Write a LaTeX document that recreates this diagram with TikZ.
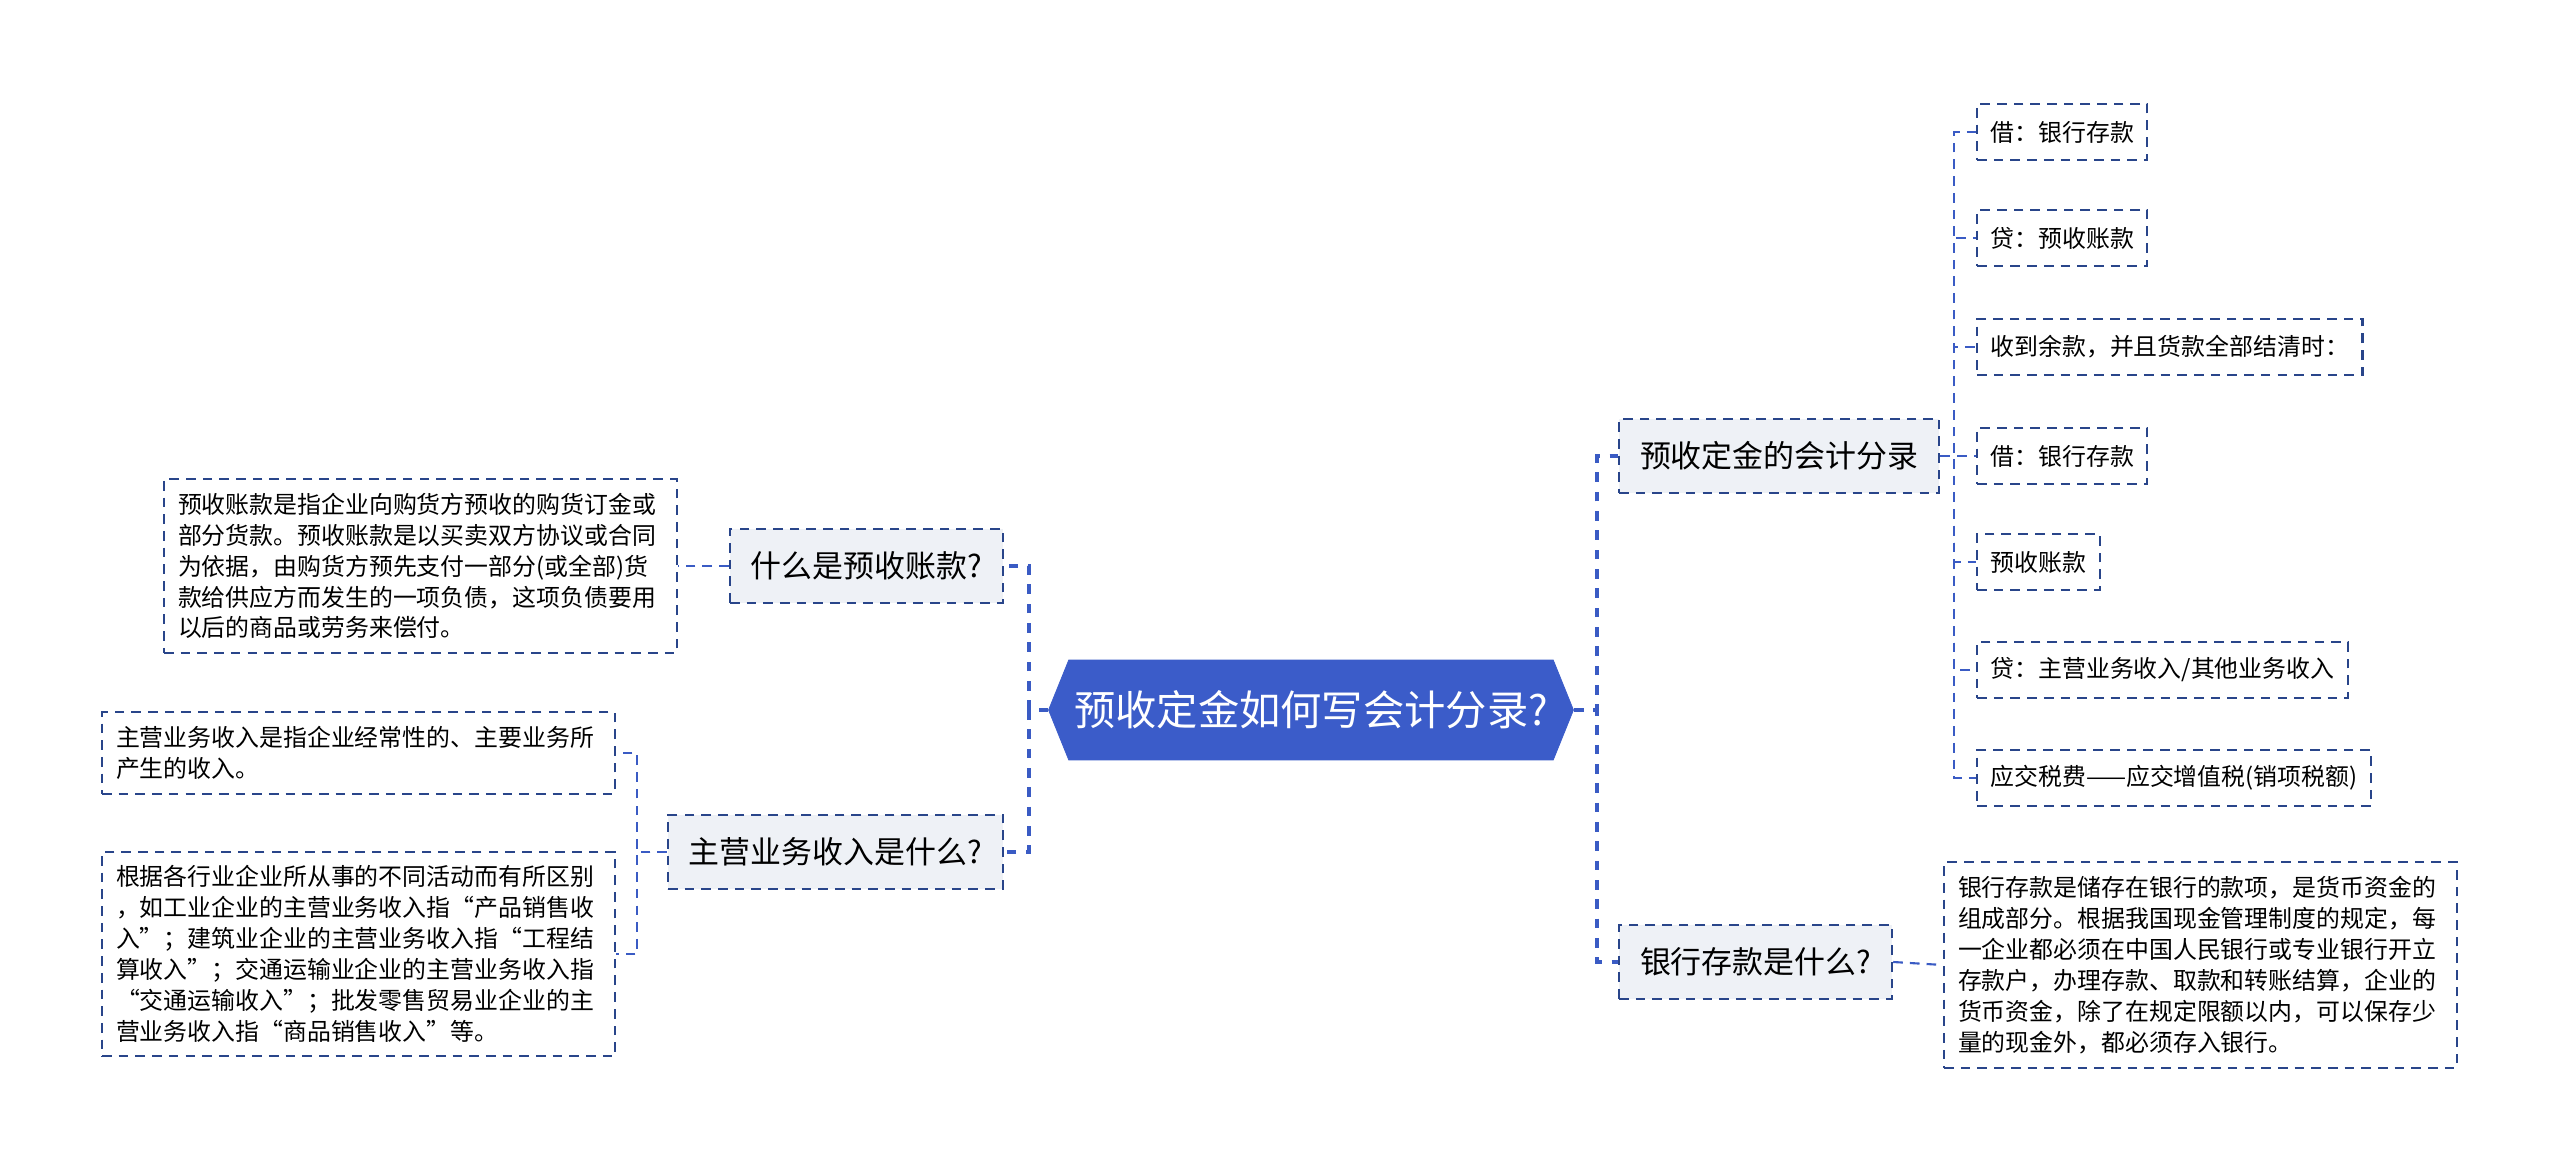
\documentclass[tikz,border=0pt]{standalone}
\usepackage{fontspec}
\setmainfont{Noto Sans CJK SC}
\usepackage{tikz}
\usepackage{xcolor}
\usetikzlibrary{
    shapes.symbols,
    calc,
    positioning
}
\definecolor{rootblue}{HTML}{3B5CC9}
\definecolor{linkblue}{HTML}{3A5BC4}
\definecolor{boxnavy}{HTML}{29458A}
\definecolor{midfill}{HTML}{EEF1F6}

\begin{document}
\begin{tikzpicture}[
        x=0.02cm, y=-0.02cm,
        rootnode/.style={shape=signal, signal to=west and east, signal pointer angle=136,
            fill=rootblue, draw=rootblue, text=white, minimum width=10.5cm, minimum height=2cm,
            inner xsep=0pt, font=\fontsize{23.5}{28}\selectfont},
        midnode/.style={draw=boxnavy, dashed, dash pattern=on 5.5pt off 4pt, line width=1.2pt,
            fill=midfill, minimum height=1.48cm, inner xsep=0.42cm, font=\fontsize{17.6}{21}\selectfont},
        leafnode/.style={draw=boxnavy, dashed, dash pattern=on 5.5pt off 4pt, line width=1.2pt,
            fill=white, minimum height=1.12cm, inner xsep=0.27cm, font=\fontsize{13.6}{16}\selectfont},
        descnode/.style={draw=boxnavy, dashed, dash pattern=on 5.5pt off 4pt, line width=1.2pt,
            fill=white, text width=9.7cm, align=left, inner xsep=0.28cm, inner ysep=0.28cm,
            font=\fontsize{13.6}{17.6}\selectfont},
        rootlink/.style={draw=linkblue, line width=2.2pt, dash pattern=on 5.5pt off 5.5pt},
        sublink/.style={draw=linkblue, line width=1.2pt, dash pattern=on 5.5pt off 4pt}
    ]
                        \useasboundingbox (0, 0) rectangle (2560, 1175);
                        \fill[white] (0, 0) rectangle (2560, 1175);

                        \node[rootnode] (root) at (1311, 710) {预收定金如何写会计分录?};

                        \node[midnode, anchor=east] (whatadv) at (1004, 566) {什么是预收账款?};
                        \node[midnode, anchor=east] (whatrev) at (1004, 852) {主营业务收入是什么?};
                        \node[midnode, anchor=west] (entries) at (1618, 456) {预收定金的会计分录};
                        \node[midnode, anchor=west] (whatbank) at (1618, 962) {银行存款是什么?};

                        \node[descnode, anchor=east] (advdesc) at (678, 566) {预收账款是指企业向购货方预收的购货订金或\\部分货款。预收账款是以买卖双方协议或合同\\为依据，由购货方预先支付一部分(或全部)货\\款给供应方而发生的一项负债，这项负债要用\\以后的商品或劳务来偿付。};
                        \node[descnode, anchor=east] (revdescA) at (616, 753) {主营业务收入是指企业经常性的、主要业务所\\产生的收入。};
                        \node[descnode, anchor=east] (revdescB) at (616, 954) {根据各行业企业所从事的不同活动而有所区别\\，如工业企业的主营业务收入指“产品销售收\\入”；建筑业企业的主营业务收入指“工程结\\算收入”；交通运输业企业的主营业务收入指\\“交通运输收入”；批发零售贸易业企业的主\\营业务收入指“商品销售收入”等。};
                        \node[descnode, anchor=west] (bankdesc) at (1943, 965) {银行存款是储存在银行的款项，是货币资金的\\组成部分。根据我国现金管理制度的规定，每\\一企业都必须在中国人民银行或专业银行开立\\存款户，办理存款、取款和转账结算，企业的\\货币资金，除了在规定限额以内，可以保存少\\量的现金外，都必须存入银行。};

                        \node[leafnode, anchor=west] (debitA) at (1976, 132) {借：银行存款};
                        \node[leafnode, anchor=west] (creditA) at (1976, 238) {贷：预收账款};
                        \node[leafnode, anchor=west] (settle) at (1976, 347) {收到余款，并且货款全部结清时：};
                        \node[leafnode, anchor=west] (debitB) at (1976, 456) {借：银行存款};
                        \node[leafnode, anchor=west] (advacct) at (1976, 562) {预收账款};
                        \node[leafnode, anchor=west] (creditB) at (1976, 670) {贷：主营业务收入/其他业务收入};
                        \node[leafnode, anchor=west] (taxes) at (1976, 778) {应交税费——应交增值税(销项税额)};

                        \coordinate (rootL) at (1029, 710);
                        \coordinate (rootR) at (1597, 710);
                        \coordinate (revJ) at (637, 852);
                        \coordinate (entJ) at (1954, 456);

                        \draw[rootlink] (root.west) -- (rootL) |- (whatadv.east);
                        \draw[rootlink] (root.west) -- (rootL) |- (whatrev.east);
                        \draw[rootlink] (root.east) -- (rootR) |- (entries.west);
                        \draw[rootlink] (root.east) -- (rootR) |- (whatbank.west);

                        \draw[sublink] (whatadv.west) -- (advdesc.east);
                        \draw[sublink] (whatbank.east) -- (bankdesc.west);
                        \draw[sublink] (whatrev.west) -- (revJ) |- (revdescA.east);
                        \draw[sublink] (whatrev.west) -- (revJ) |- (revdescB.east);

                        \foreach \leaf in {debitA, creditA, settle, debitB, advacct, creditB, taxes}
                            \draw[sublink] (entries.east) -- (entJ) |- (\leaf.west);
                    \end{tikzpicture}
\end{document}
